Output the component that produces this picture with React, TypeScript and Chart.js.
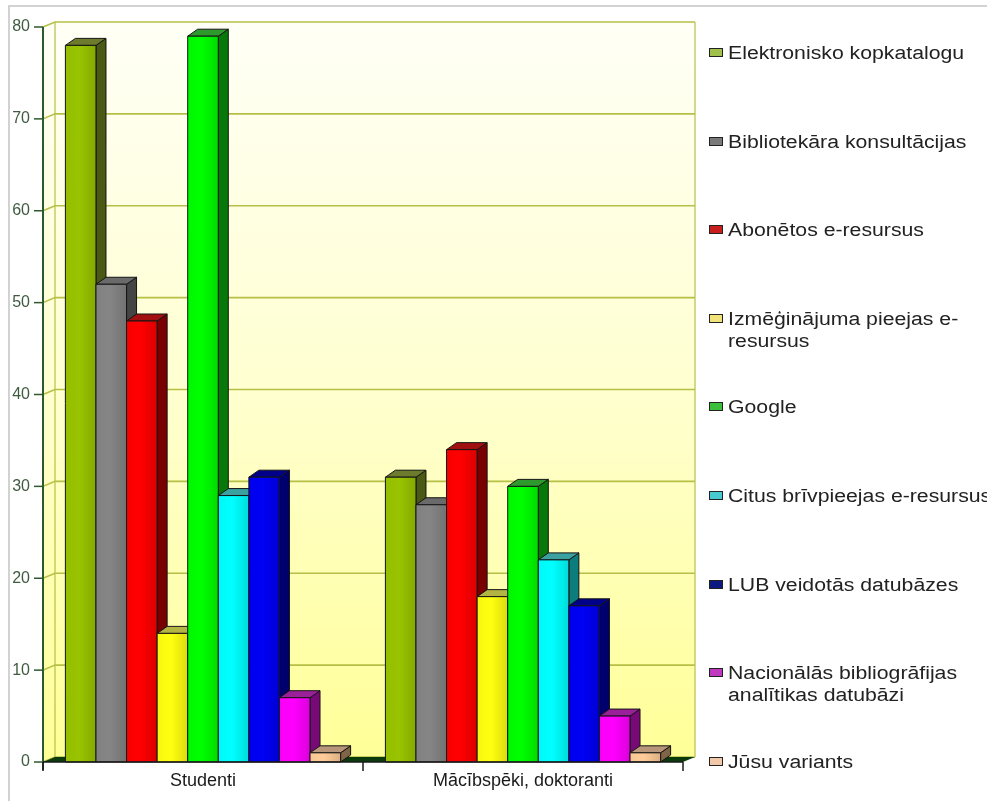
import React, { useEffect, useRef } from "react";
import { Chart, registerables } from "chart.js";

Chart.register(...registerables);

// Survey groups on the category axis
const categories = ["Studenti", "Mācībspēki, doktoranti"];

// Answer options, split into the lines they occupy in the legend
const seriesLines: string[][] = [
  ["Elektronisko kopkatalogu"],
  ["Bibliotekāra konsultācijas"],
  ["Abonētos e-resursus"],
  ["Izmēģinājuma pieejas e-", "resursus"],
  ["Google"],
  ["Citus brīvpieejas e-resursus"],
  ["LUB veidotās datubāzes"],
  ["Nacionālās bibliogrāfijas", "analītikas datubāzi"],
  ["Jūsu variants"],
];

// Counts per answer option for each group
const studentiValues = [78, 52, 48, 14, 79, 29, 31, 7, 1];
const macibspekiValues = [31, 28, 34, 18, 30, 22, 17, 5, 1];

// Value axis
const yMin = 0;
const yMax = 80;
const yStep = 10;

// Bar colours: front face, right side, top face; legend swatches
const faceColors = ["#99c400", "#858585", "#ff0000", "#ffff10", "#00ff00", "#00ffff", "#0000f4", "#ff00ff", "#ffcc99"];
const sideColors = ["#4b5a12", "#444444", "#780000", "#9a9a20", "#087808", "#0c7c7c", "#00006c", "#780a78", "#7f6448"];
const topColors = ["#6c7c2c", "#6a6a6a", "#a01010", "#b4b444", "#2e9a2e", "#3aa0a0", "#000088", "#9a209a", "#b8967a"];
const legendColors = ["#9fc04a", "#7a7a7a", "#c81e1e", "#f2e27a", "#3cc03c", "#48c8d0", "#0a1a80", "#c03ac0", "#f2c8a8"];

const WALL_DX = 12;
const WALL_DY = 5;
const BAR_DX = 10;
const BAR_DY = 7;

const FONT = '"Liberation Sans", Arial, sans-serif';

function joinLines(lines: string[]): string {
  return lines.reduce((acc, l) => (acc === "" ? l : acc.endsWith("-") ? acc + l : acc + " " + l), "");
}

function shade(hex: string, f: number): string {
  const n = parseInt(hex.slice(1), 16);
  const r = Math.min(255, Math.round(((n >> 16) & 255) * f));
  const g = Math.min(255, Math.round(((n >> 8) & 255) * f));
  const b = Math.min(255, Math.round((n & 255) * f));
  return `rgb(${r},${g},${b})`;
}

const scenePlugin = {
  id: "scene3d",
  beforeDatasetsDraw(chart: any) {
    const { ctx, chartArea: a } = chart;
    const yScale = chart.scales.y;
    ctx.save();

    // back wall and left side wall
    const g = ctx.createLinearGradient(0, a.top - WALL_DY, 0, a.bottom - WALL_DY);
    g.addColorStop(0, "#fffff6");
    g.addColorStop(0.5, "#ffffd0");
    g.addColorStop(1, "#ffff98");
    ctx.fillStyle = g;
    ctx.fillRect(a.left + WALL_DX, a.top - WALL_DY, a.right - a.left, a.bottom - a.top);
    ctx.beginPath();
    ctx.moveTo(a.left, a.top);
    ctx.lineTo(a.left + WALL_DX, a.top - WALL_DY);
    ctx.lineTo(a.left + WALL_DX, a.bottom - WALL_DY);
    ctx.lineTo(a.left, a.bottom);
    ctx.closePath();
    ctx.fill();

    // grid lines on the walls
    ctx.strokeStyle = "#b6c046";
    ctx.lineWidth = 1.6;
    yScale.ticks.forEach((t: any) => {
      const py = yScale.getPixelForValue(t.value);
      ctx.beginPath();
      ctx.moveTo(a.left, py);
      ctx.lineTo(a.left + WALL_DX, py - WALL_DY);
      ctx.lineTo(a.right + WALL_DX, py - WALL_DY);
      ctx.stroke();
    });
    ctx.lineWidth = 1.2;
    ctx.beginPath();
    ctx.moveTo(a.left + WALL_DX, a.top - WALL_DY);
    ctx.lineTo(a.left + WALL_DX, a.bottom - WALL_DY);
    ctx.moveTo(a.right + WALL_DX, a.top - WALL_DY);
    ctx.lineTo(a.right + WALL_DX, a.bottom - WALL_DY);
    ctx.stroke();

    // floor
    ctx.fillStyle = "#0b3a0b";
    ctx.beginPath();
    ctx.moveTo(a.left, a.bottom);
    ctx.lineTo(a.right, a.bottom);
    ctx.lineTo(a.right + WALL_DX, a.bottom - WALL_DY);
    ctx.lineTo(a.left + WALL_DX, a.bottom - WALL_DY);
    ctx.closePath();
    ctx.fill();
    ctx.restore();
  },
  beforeDatasetDraw() {
    return false;
  },
  afterDatasetsDraw(chart: any) {
    const { ctx, chartArea: a } = chart;
    const yScale = chart.scales.y;
    const xScale = chart.scales.x;
    const n = chart.data.labels.length;
    const metas = chart.data.datasets.map((_: any, i: number) => chart.getDatasetMeta(i));
    ctx.save();
    ctx.lineJoin = "round";
    for (let j = 0; j < n; j++) {
      metas.forEach((meta: any, i: number) => {
        const el = meta.data[j];
        const { x, y, base, width } = el.getProps(["x", "y", "base", "width"], true);
        const x0 = x - width / 2;
        const x1 = x + width / 2;
        ctx.strokeStyle = "#141414";
        ctx.lineWidth = 1;

        // right side
        ctx.beginPath();
        ctx.moveTo(x1, y);
        ctx.lineTo(x1 + BAR_DX, y - BAR_DY);
        ctx.lineTo(x1 + BAR_DX, base - BAR_DY);
        ctx.lineTo(x1, base);
        ctx.closePath();
        ctx.fillStyle = sideColors[i];
        ctx.fill();
        ctx.stroke();

        // top
        ctx.beginPath();
        ctx.moveTo(x0, y);
        ctx.lineTo(x0 + BAR_DX, y - BAR_DY);
        ctx.lineTo(x1 + BAR_DX, y - BAR_DY);
        ctx.lineTo(x1, y);
        ctx.closePath();
        ctx.fillStyle = topColors[i];
        ctx.fill();
        ctx.stroke();

        // front
        const fg = ctx.createLinearGradient(x0, 0, x1, 0);
        fg.addColorStop(0, shade(faceColors[i], 0.97));
        fg.addColorStop(0.45, faceColors[i]);
        fg.addColorStop(1, shade(faceColors[i], 0.86));
        ctx.fillStyle = fg;
        ctx.fillRect(x0, y, width, base - y);
        ctx.strokeRect(x0, y, width, base - y);
      });
    }

    // front value axis with tick marks
    ctx.strokeStyle = "#2c5a2c";
    ctx.lineWidth = 2;
    ctx.beginPath();
    ctx.moveTo(a.left, a.top);
    ctx.lineTo(a.left, a.bottom + 8);
    ctx.stroke();
    ctx.lineWidth = 1.5;
    yScale.ticks.forEach((t: any) => {
      const py = yScale.getPixelForValue(t.value);
      ctx.beginPath();
      ctx.moveTo(a.left - 9, py);
      ctx.lineTo(a.left, py);
      ctx.stroke();
    });

    // category axis line and boundary ticks
    ctx.strokeStyle = "#1a1a1a";
    ctx.lineWidth = 1.5;
    ctx.beginPath();
    ctx.moveTo(a.left, a.bottom);
    ctx.lineTo(a.right, a.bottom);
    ctx.stroke();
    for (let j = 0; j <= n; j++) {
      const px = xScale.getPixelForValue(j - 0.5);
      ctx.beginPath();
      ctx.moveTo(px, a.bottom);
      ctx.lineTo(px, a.bottom + 9);
      ctx.stroke();
    }
    ctx.restore();
  },
};

const LEGEND_LEFT = 709;
const LEGEND_TOP = 42;
const LEGEND_PITCH = 88.6;

export default function App() {
  const canvasRef = useRef<HTMLCanvasElement | null>(null);

  useEffect(() => {
    const canvas = canvasRef.current;
    if (!canvas) return;
    const chart = new Chart(canvas, {
      type: "bar",
      data: {
        labels: categories,
        datasets: seriesLines.map((lines, i) => ({
          label: joinLines(lines),
          data: [studentiValues[i], macibspekiValues[i]],
          backgroundColor: faceColors[i],
          borderWidth: 0,
          categoryPercentage: 0.86,
          barPercentage: 1,
        })),
      },
      options: {
        responsive: false,
        animation: false,
        devicePixelRatio: 1,
        layout: { padding: { top: 27, right: 304, left: 0, bottom: 0 } },
        plugins: {
          legend: { display: false },
          tooltip: { enabled: false },
        },
        scales: {
          x: {
            offset: true,
            grid: { display: false, drawTicks: false },
            border: { display: false },
            ticks: {
              color: "#1a1a1a",
              font: { family: FONT, size: 18 },
              padding: 8,
              maxRotation: 0,
              autoSkip: false,
            },
            afterFit: (s: any) => {
              s.height = 39;
            },
          },
          y: {
            min: yMin,
            max: yMax,
            grid: { display: false, drawTicks: false },
            border: { display: false },
            ticks: {
              stepSize: yStep,
              color: "#3f5a3f",
              font: { family: FONT, size: 16 },
              padding: 13,
            },
            afterFit: (s: any) => {
              s.width = 43;
            },
          },
        },
      },
      plugins: [scenePlugin],
    });
    return () => chart.destroy();
  }, []);

  return (
    <div
      style={{
        position: "absolute",
        left: 0,
        top: 0,
        width: 987,
        height: 801,
        overflow: "hidden",
        background: "#ffffff",
      }}
    >
      <div
        style={{
          position: "absolute",
          left: 8,
          top: 5,
          right: 0,
          bottom: 0,
          borderTop: "2px solid #d2d2d2",
          borderLeft: "2px solid #d2d2d2",
        }}
      />
      <canvas
        ref={canvasRef}
        width={987}
        height={801}
        style={{ position: "absolute", left: 0, top: 0, width: 987, height: 801 }}
      />
      {seriesLines.map((lines, i) => (
        <div
          key={i}
          style={{ position: "absolute", left: LEGEND_LEFT, top: LEGEND_TOP + i * LEGEND_PITCH }}
        >
          <span
            style={{
              position: "absolute",
              left: 0,
              top: 6,
              width: 12,
              height: 7,
              background: legendColors[i],
              border: "1px solid #222",
            }}
          />
          <div
            style={{
              position: "absolute",
              left: 19,
              top: 0,
              fontFamily: FONT,
              fontSize: 18,
              lineHeight: "22px",
              color: "#222",
              whiteSpace: "nowrap",
              transform: "scaleX(1.18)",
              transformOrigin: "0 0",
            }}
          >
            {lines.map((l, k) => (
              <div key={k}>{l}</div>
            ))}
          </div>
        </div>
      ))}
    </div>
  );
}
